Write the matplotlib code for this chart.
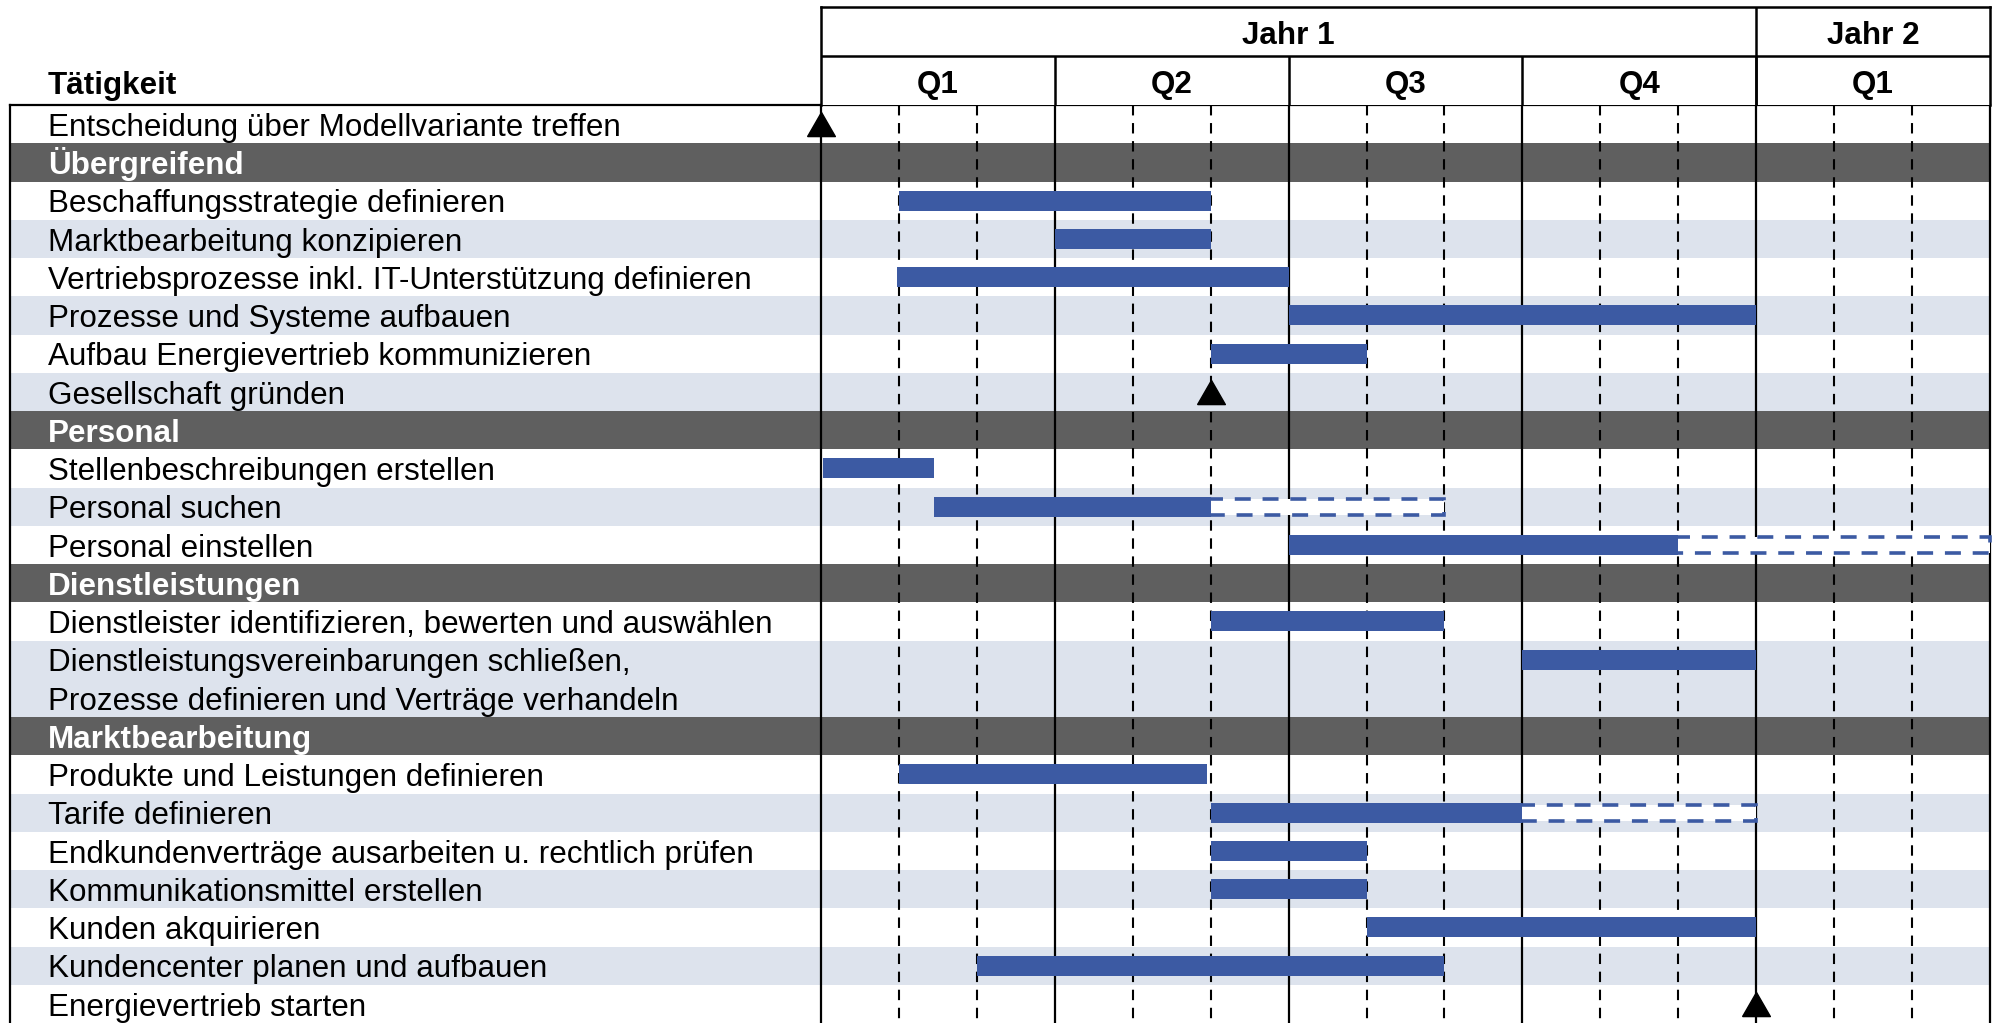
import numpy as np
import matplotlib
matplotlib.use("Agg")
import matplotlib.pyplot as plt
from matplotlib.path import Path

plt.rcParams['font.family'] = ['Liberation Sans', 'DejaVu Sans']
plt.rcParams['lines.scale_dashes'] = False

# ---- data -------------------------------------------------------------
labels = [
    "Entscheidung über Modellvariante treffen",
    "Übergreifend",
    "Beschaffungsstrategie definieren",
    "Marktbearbeitung konzipieren",
    "Vertriebsprozesse inkl. IT-Unterstützung definieren",
    "Prozesse und Systeme aufbauen",
    "Aufbau Energievertrieb kommunizieren",
    "Gesellschaft gründen",
    "Personal",
    "Stellenbeschreibungen erstellen",
    "Personal suchen",
    "Personal einstellen",
    "Dienstleistungen",
    "Dienstleister identifizieren, bewerten und auswählen",
    "Dienstleistungsvereinbarungen schließen,\nProzesse definieren und Verträge verhandeln",
    "Marktbearbeitung",
    "Produkte und Leistungen definieren",
    "Tarife definieren",
    "Endkundenverträge ausarbeiten u. rechtlich prüfen",
    "Kommunikationsmittel erstellen",
    "Kunden akquirieren",
    "Kundencenter planen und aufbauen",
    "Energievertrieb starten",
]
section_headers = ["Übergreifend", "Personal", "Dienstleistungen", "Marktbearbeitung"]

# months from project start (0 = begin of Jahr 1 / Q1)
bar_start = [None, None, 1, 3, 0.97, 6, 5, None, None, 0.03, 1.45, 6, None, 5, 9,
             None, 1, 5, 5, 5, 7, 2, None]
bar_end = [None, None, 5, 5, 6, 12, 7, None, None, 1.45, 5, 11, None, 8, 12,
           None, 4.95, 9, 7, 7, 12, 8, None]
open_end = [None, None, None, None, None, None, None, None, None, None, 8, 15, None, None, None,
            None, None, 12, None, None, None, None, None]
milestone = [0, None, None, None, None, None, None, 5, None, None, None, None, None, None, None,
             None, None, None, None, None, None, None, 12]

years = ["Jahr 1", "Jahr 2"]
year_bounds = [(0, 12), (12, 15)]
quarters = ["Q1", "Q2", "Q3", "Q4", "Q1"]
n_months = 15

# ---- layout -------------------------------------------------------------
W, H = 1995, 1023
blue = "#3C5AA3"
dark = "#5F5F5F"
light = "#DDE3ED"
fs = 22.6
unit = 38.25
top = 105
base_off = 0.31  # baseline below row centre, in row units

fig = plt.figure(figsize=(W / 100, H / 100), dpi=100)


def px_axes(x0, y0, x1, y1, **kw):
    return fig.add_axes([x0 / W, 1 - y1 / H, (x1 - x0) / W, (y1 - y0) / H], **kw)


row_units = [len(l.split("\n")) for l in labels]
row_top = np.concatenate([[0], np.cumsum(row_units)[:-1]])
total = sum(row_units)
bottom = top + total * unit

ax_lab = px_axes(10, top, 821, bottom)
ax = px_axes(821, top, 1990, bottom, sharey=ax_lab)
ax_head = px_axes(821, 7, 1990, top)

ax.set_xlim(0, n_months)
ax.set_ylim(total, 0)
ax_lab.set_xlim(0, 1)

# stripes
shade = False
for i, lab in enumerate(labels):
    y0, y1 = row_top[i], row_top[i] + row_units[i]
    if lab in section_headers:
        col = dark
        shade = False
    else:
        col = light if shade else "white"
        shade = not shade
    for a in (ax, ax_lab):
        a.axhspan(y0, y1, color=col, lw=0, zorder=0)

# grid lines
months = np.arange(1, n_months)
ax.vlines(months[months % 3 == 0], 0, total, color="black", lw=1.6, zorder=1)
ax.vlines(months[months % 3 != 0], 0, total, color="black", lw=1.5,
          linestyles=[(0, (7.5, 5.5))], zorder=1)

# bars
for i in range(len(labels)):
    yc = row_top[i] + 0.5
    if open_end[i] is not None:
        ax.barh(yc, open_end[i] - bar_end[i] + 0.05, left=bar_end[i] - 0.05, height=0.42,
                facecolor="white", edgecolor=blue, lw=2.6,
                linestyle=(0, (11.5, 8.5)), zorder=3, clip_on=False)
    if bar_start[i] is not None:
        ax.barh(yc, bar_end[i] - bar_start[i], left=bar_start[i], height=0.52,
                color=blue, lw=0, zorder=4)

tri = Path([(-0.575, -0.5), (0.575, -0.5), (0, 0.5), (-0.575, -0.5)])
for i in range(len(labels)):
    if milestone[i] is not None:
        ax.plot(milestone[i], row_top[i] + 0.5, marker=tri, ms=20, color="black",
                zorder=6, clip_on=False)

# labels
for i, lab in enumerate(labels):
    hdr = lab in section_headers
    for k, line in enumerate(lab.split("\n")):
        ax_lab.text(38 / 811, row_top[i] + 0.5 + k + base_off, line, fontsize=fs,
                    va="baseline", ha="left",
                    color="white" if hdr else "black",
                    fontweight="bold" if hdr else "normal", zorder=5)

for a in (ax, ax_lab):
    a.tick_params(left=False, bottom=False, labelleft=False, labelbottom=False)
    a.spines["bottom"].set_visible(False)
    for s in a.spines.values():
        s.set_linewidth(1.6)
ax_lab.spines["right"].set_visible(False)
for s in ax.spines.values():
    s.set_zorder(2)

# header
ax_head.set_xlim(0, n_months)
ax_head.set_ylim(0, 2)
ax_head.tick_params(left=False, bottom=False, labelleft=False, labelbottom=False)
ax_head.spines["bottom"].set_visible(False)
for s in ax_head.spines.values():
    s.set_linewidth(1.8)
ax_head.axhline(1, color="black", lw=1.8)
for (a, b), yr in zip(year_bounds, years):
    ax_head.text((a + b) / 2, 1.25, yr, ha="center", va="baseline", fontsize=fs,
                 fontweight="bold")
    if a > 0:
        ax_head.vlines(a, 0, 2, color="black", lw=1.8)
for q, lab in enumerate(quarters):
    ax_head.text(q * 3 + 1.5, 0.25, lab, ha="center", va="baseline", fontsize=fs,
                 fontweight="bold")
    if q > 0:
        ax_head.vlines(q * 3, 0, 1, color="black", lw=1.8)

fig.text(48 / W, 1 - 94 / H, "Tätigkeit", fontsize=fs, fontweight="bold",
         va="baseline", ha="left")

fig.savefig("out.png", dpi=100)
